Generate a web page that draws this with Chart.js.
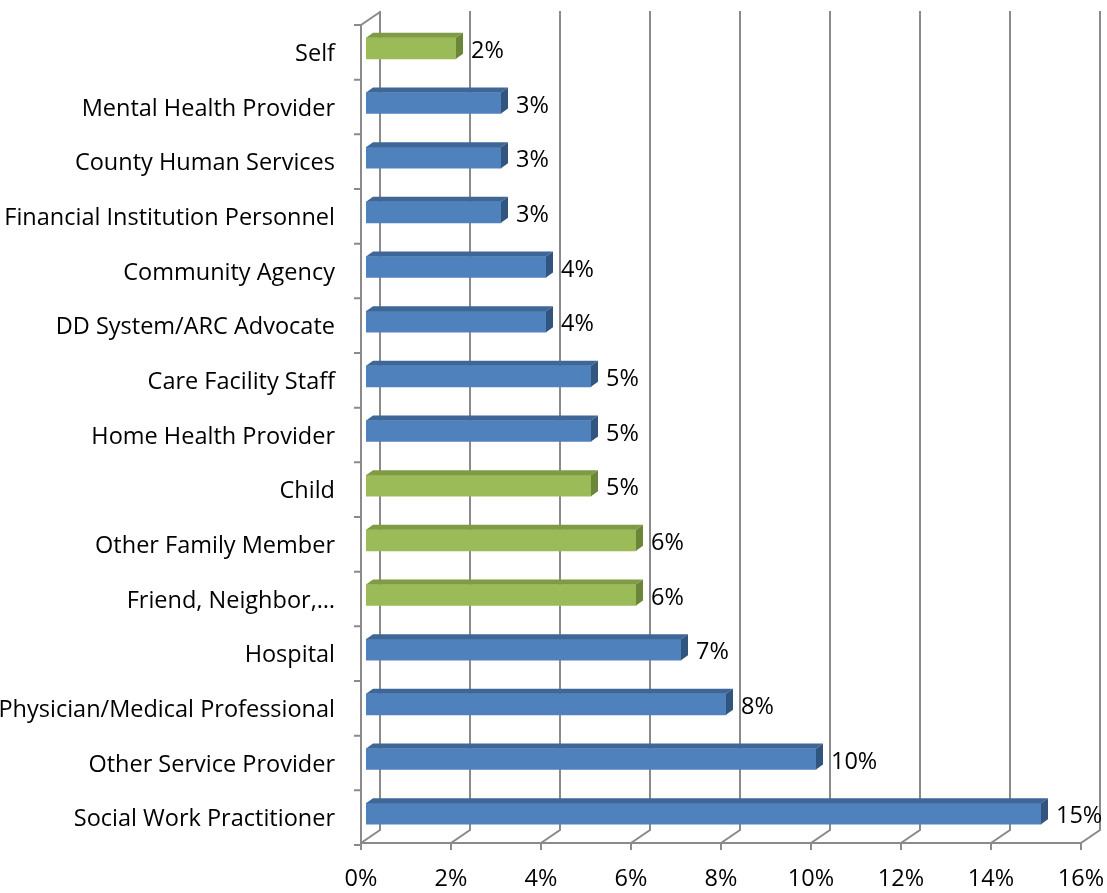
<!DOCTYPE html>
<html lang="en">
<head>
  <meta charset="UTF-8">
  <title>Referral sources</title>
  <script src="https://cdn.jsdelivr.net/npm/chart.js"></script>
  <style>
    body { margin: 0; background: #fff; }
    #wrap { width: 1107px; height: 893px; }
  </style>
</head>
<body>
  <div id="wrap"><canvas id="chart"></canvas></div>
  <script>
    const categories = [
      'Self', 'Mental Health Provider', 'County Human Services', 'Financial Institution Personnel',
      'Community Agency', 'DD System/ARC Advocate', 'Care Facility Staff', 'Home Health Provider',
      'Child', 'Other Family Member', 'Friend, Neighbor,\u2026', 'Hospital',
      'Physician/Medical Professional', 'Other Service Provider', 'Social Work Practitioner'
    ];
    const values = [2, 3, 3, 3, 4, 4, 5, 5, 5, 6, 6, 7, 8, 10, 15];
    // 'family' bars are green, the rest blue
    const groups = ['family', 'other', 'other', 'other', 'other', 'other', 'other', 'other',
      'family', 'family', 'family', 'other', 'other', 'other', 'other'];
    const xTicks = [0, 2, 4, 6, 8, 10, 12, 14, 16];

    const FONT = '"Open Sans", sans-serif';
    const FSIZE = 23.5;
    const GRID = '#8a8a8a';
    const DX = 7, DY = 5;        // bar depth
    const WX = 19, WY = 13;      // wall depth
    const FRONT = -5;            // front plane offset from bar plane

    const palette = {
      family: { front: '#9bbb59', top: '#7f9c45', side: '#6b8638' },
      other: { front: '#4f81bd', top: '#3e6797', side: '#31557f' }
    };

    const threeD = {
      id: 'threeD',
      beforeDatasetsDraw(chart) {
        const { ctx, chartArea, scales: { x, y } } = chart;
        const fy = chartArea.bottom + 2;
        const topY = y.getPixelForValue(-0.5) + 4;
        ctx.save();
        ctx.strokeStyle = GRID;
        ctx.lineWidth = 2;
        ctx.beginPath();
        for (const v of xTicks) {
          const fx = x.getPixelForValue(v) + FRONT;
          ctx.moveTo(fx + WX, topY - WY - 1);
          ctx.lineTo(fx + WX, fy - WY);
          ctx.lineTo(fx, fy);
          ctx.lineTo(fx, fy + 7);
        }
        const x0 = x.getPixelForValue(0) + FRONT;
        const x1 = x.getPixelForValue(16) + FRONT;
        ctx.moveTo(x0, fy);
        ctx.lineTo(x1, fy);
        // left wall
        ctx.moveTo(x0, fy);
        ctx.lineTo(x0, topY);
        ctx.lineTo(x0 + WX, topY - WY);
        for (let i = 0; i <= categories.length; i++) {
          const ty = y.getPixelForValue(i - 0.5) + 4;
          ctx.moveTo(x0 - 7, ty);
          ctx.lineTo(x0, ty);
        }
        ctx.stroke();
        ctx.restore();
      },
      afterDatasetsDraw(chart) {
        const { ctx } = chart;
        const meta = chart.getDatasetMeta(0);
        ctx.save();
        meta.data.forEach((bar, i) => {
          const p = palette[groups[i]];
          const t = bar.y - bar.height / 2;
          const b = bar.y + bar.height / 2;
          ctx.fillStyle = p.top;
          ctx.beginPath();
          ctx.moveTo(bar.base, t);
          ctx.lineTo(bar.x, t);
          ctx.lineTo(bar.x + DX, t - DY);
          ctx.lineTo(bar.base + DX, t - DY);
          ctx.closePath();
          ctx.fill();
          ctx.fillStyle = p.side;
          ctx.beginPath();
          ctx.moveTo(bar.x, t);
          ctx.lineTo(bar.x + DX, t - DY);
          ctx.lineTo(bar.x + DX, b - DY);
          ctx.lineTo(bar.x, b);
          ctx.closePath();
          ctx.fill();
          ctx.fillStyle = '#000';
          ctx.font = FSIZE + 'px ' + FONT;
          ctx.textBaseline = 'middle';
          ctx.textAlign = 'left';
          ctx.fillText(values[i] + '%', bar.x + DX + 8, bar.y + 3);
        });
        ctx.restore();
      }
    };

    new Chart(document.getElementById('chart'), {
      type: 'bar',
      data: {
        labels: categories,
        datasets: [{
          data: values,
          backgroundColor: groups.map(g => palette[g].front),
          barThickness: 21
        }]
      },
      options: {
        indexAxis: 'y',
        responsive: true,
        maintainAspectRatio: false,
        animation: false,
        layout: { padding: { top: 21, right: 21, left: 0, bottom: 0 } },
        plugins: { legend: { display: false }, tooltip: { enabled: false } },
        scales: {
          x: {
            min: 0, max: 16,
            afterFit(scale) {
              scale.height = 52;
              scale.paddingLeft = 0;
              scale.paddingRight = 0;
            },
            afterBuildTicks(scale) { scale.ticks = xTicks.map(v => ({ value: v })); },
            grid: { display: false, drawTicks: false },
            border: { display: false },
            ticks: {
              padding: 24,
              labelOffset: FRONT,
              color: '#000',
              font: { family: FONT, size: FSIZE },
              callback: v => v + '%'
            }
          },
          y: {
            afterFit(scale) {
              scale.width = 366;
              scale.paddingTop = 0;
              scale.paddingBottom = 0;
            },
            grid: { display: false, drawTicks: false },
            border: { display: false },
            ticks: {
              padding: 31,
              labelOffset: 6,
              color: '#000',
              autoSkip: false,
              font: { family: FONT, size: FSIZE }
            }
          }
        }
      },
      plugins: [threeD]
    });
  </script>
</body>
</html>
